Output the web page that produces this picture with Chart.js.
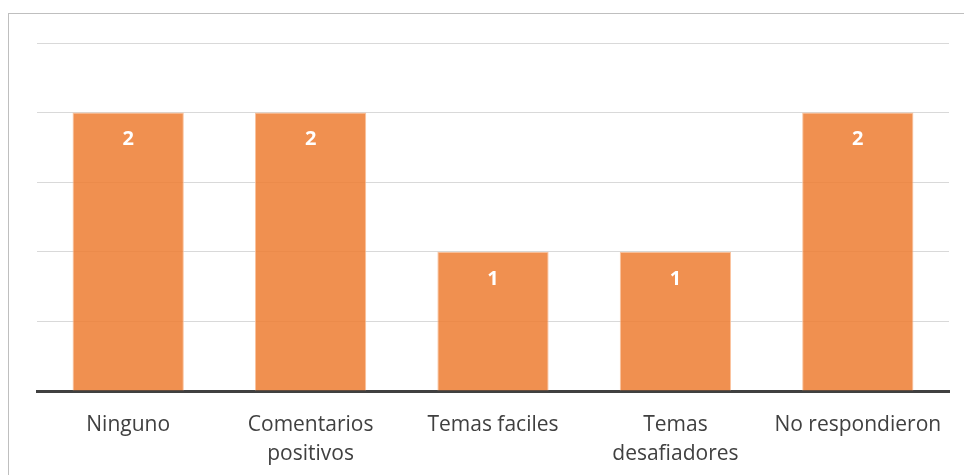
<!DOCTYPE html>
<html lang="es">
<head>
<meta charset="UTF-8">
<title>Chart</title>
<script src="https://cdn.jsdelivr.net/npm/chart.js"></script>
<style>
    html, body { margin: 0; padding: 0; background: #fff; overflow: hidden; }
    #wrap { position: relative; width: 964px; height: 475px; }
    #frame { position: absolute; left: 8px; top: 13px; width: 1000px; height: 500px; border: 1px solid #bfbfbf; box-sizing: border-box; }
    #canvas { position: absolute; left: 0; top: 0; }
</style>
</head>
<body>
<div id="wrap">
    <div id="frame"></div>
    <canvas id="canvas" width="964" height="475"></canvas>
</div>
<script>
    const categories = [['Ninguno'], ['Comentarios', 'positivos'], ['Temas faciles'], ['Temas', 'desafiadores'], ['No respondieron']];
    const values = [2, 2, 1, 1, 2];
    const yMax = 2.5;
    const yStep = 0.5;

    // value labels inside the top of each bar
    const valueLabels = {
        id: 'valueLabels',
        afterDatasetsDraw(chart) {
            const c = chart.ctx;
            const meta = chart.getDatasetMeta(0);
            c.save();
            c.fillStyle = '#ffffff';
            c.font = 'bold 20px "Open Sans", sans-serif';
            c.textAlign = 'center';
            c.textBaseline = 'middle';
            meta.data.forEach((bar, i) => {
                c.fillText(String(values[i]), bar.x, bar.y + 27);
            });
            c.restore();
        }
    };

    const ctx = document.getElementById('canvas').getContext('2d');
    const chart = new Chart(ctx, {
        type: 'bar',
        data: {
            labels: categories,
            datasets: [{
                data: values,
                backgroundColor: 'rgba(237,125,49,0.85)',
                borderColor: 'rgba(248,190,150,0.9)',
                borderWidth: 1,
                categoryPercentage: 1,
                barPercentage: 0.61
            }]
        },
        options: {
            responsive: false,
            animation: false,
            layout: { padding: { left: 37, right: 15, top: 43, bottom: 0 } },
            plugins: { legend: { display: false }, tooltip: { enabled: false } },
            scales: {
                x: {
                    grid: { display: false },
                    border: { display: true, color: '#404040', width: 3 },
                    ticks: {
                        color: '#404040',
                        font: { family: '"Open Sans", sans-serif', size: 21, lineHeight: 1.38 },
                        padding: 12,
                        maxRotation: 0,
                        autoSkip: false
                    },
                    afterFit(scale) { scale.height = 84; }
                },
                y: {
                    min: 0,
                    max: yMax,
                    ticks: { display: false, stepSize: yStep },
                    grid: { color: '#d9d9d9', lineWidth: 1, drawTicks: false },
                    border: { display: false },
                    afterFit(scale) { scale.width = 0; }
                }
            }
        },
        plugins: [valueLabels]
    });
</script>
</body>
</html>
